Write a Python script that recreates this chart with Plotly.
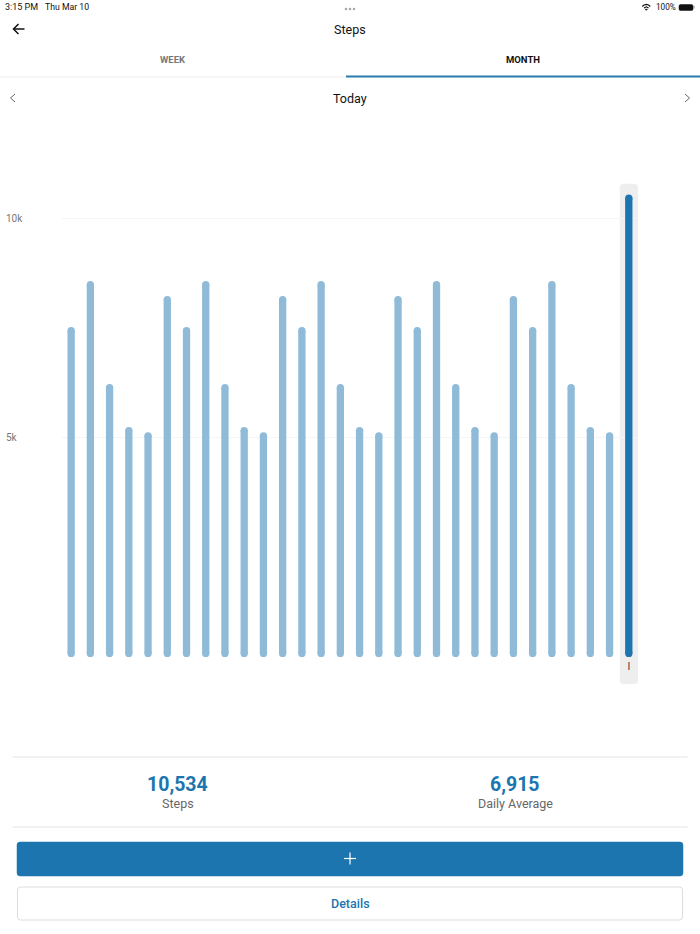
import plotly.graph_objects as go

W = 700
H = 934

days = list(range(30))
steps = [7510, 8560, 6210, 5230, 5110, 8220,
         7510, 8560, 6210, 5230, 5110, 8220,
         7510, 8560, 6210, 5230, 5110, 8220,
         7510, 8560, 6210, 5230, 5110, 8220,
         7510, 8560, 6210, 5230, 5110, 10534]
y_ticks = [5000, 10000]
y_tick_labels = ["5k", "10k"]
x_ticks = [29]
x_tick_labels = ["I"]

LIGHT = "#8fbbd9"
BLUE = "#1c75af"
GREY = "#e4e4e4"
FONT = "Roboto"

# pixel scale of the plot, 10k sits at y=218, 5k at y=437, bars 19.24px apart
PX_X = 19.23
PX_Y = 219 / 5000
ZERO_X = 628.8 - 29 * PX_X
ZERO_Y = 656
BAR_W = 7.3


def data_x(px):
    return (px - ZERO_X) / PX_X


def data_y(py):
    return (ZERO_Y - py) / PX_Y


def px(x):
    return x / W


def py(y):
    return 1 - y / H


def text(x, y, s, size, color="#222222", weight="normal", anchor="center"):
    fig.add_annotation(x=px(x), y=py(y), xref="paper", yref="paper", text=s, showarrow=False,
                       xanchor=anchor, yanchor="middle", borderpad=0,
                       font=dict(family=FONT, size=size, color=color, weight=weight))


def line(x0, y0, x1, y1, color=GREY, width=1):
    fig.add_shape(type="line", xref="paper", yref="paper", x0=px(x0), y0=py(y0), x1=px(x1), y1=py(y1),
                  line=dict(color=color, width=width))


def poly(points, color, width=1.3, fill=None, close=False):
    d = "M " + " L ".join(f"{px(a):.5f},{py(b):.5f}" for a, b in points)
    if close:
        d += " Z"
    fig.add_shape(type="path", xref="paper", yref="paper", path=d,
                  line=dict(color=color, width=width), fillcolor=fill)


def round_rect(x0, y0, x1, y1, r, fill, border=None, conv=None):
    fx, fy = conv if conv else (px, py)
    d = (f"M {fx(x0 + r)},{fy(y0)} L {fx(x1 - r)},{fy(y0)} Q {fx(x1)},{fy(y0)} {fx(x1)},{fy(y0 + r)} "
         f"L {fx(x1)},{fy(y1 - r)} Q {fx(x1)},{fy(y1)} {fx(x1 - r)},{fy(y1)} "
         f"L {fx(x0 + r)},{fy(y1)} Q {fx(x0)},{fy(y1)} {fx(x0)},{fy(y1 - r)} "
         f"L {fx(x0)},{fy(y0 + r)} Q {fx(x0)},{fy(y0)} {fx(x0 + r)},{fy(y0)} Z")
    ref = "x" if conv else "paper"
    fig.add_shape(type="path", xref=ref, yref=ref.replace("x", "y"), path=d, layer="below",
                  fillcolor=fill, line=dict(color=border if border else fill, width=0.5 if not border else 1))


colors = [BLUE if d == days[-1] else LIGHT for d in days]
# bars run between two round caps, the foot ends just under zero, the head ends at the value
foot = data_y(653.4)
cap = BAR_W / 2 / PX_Y
heads = [s - cap for s in steps]

fig = go.Figure()
fig.add_trace(go.Bar(x=days, y=[h - foot for h in heads], base=foot,
                     marker=dict(color=colors, line=dict(width=0))))
fig.add_trace(go.Scatter(x=days, y=[foot] * len(days), mode="markers",
                         marker=dict(color=colors, size=BAR_W, line=dict(width=0))))
fig.add_trace(go.Scatter(x=days, y=heads, mode="markers",
                         marker=dict(color=colors, size=BAR_W, line=dict(width=0))))

round_rect(620, 184, 638, 684, 4, "#eeeeee", conv=(data_x, data_y))

fig.update_layout(
    width=W, height=H, margin=dict(l=0, r=0, t=0, b=0), autosize=False,
    paper_bgcolor="white", plot_bgcolor="white", showlegend=False, bargap=1 - BAR_W / PX_X,
    font=dict(family=FONT),
    xaxis=dict(domain=[px(62), px(638)], range=[data_x(62), data_x(638)], showgrid=False, zeroline=False,
               showline=False, tickmode="array", tickvals=x_ticks, ticktext=x_tick_labels,
               ticks="", ticklabelposition="inside", ticklabelstandoff=9,
               tickfont=dict(size=10, color="#333333", family="Liberation Sans"), fixedrange=True),
    yaxis=dict(domain=[py(684), py(170)], range=[data_y(684), data_y(170)], anchor="free", position=px(2),
               showgrid=True, gridcolor="#f5f5f5", gridwidth=1, zeroline=False, showline=False,
               tickmode="array", tickvals=y_ticks, ticktext=y_tick_labels, ticks="",
               ticklabelposition="inside", tickfont=dict(size=10, color="#777777"), fixedrange=True),
)

# status bar
text(4, 7, "3:15 PM", 9, "#111111", anchor="left")
text(43.5, 7, "Thu Mar 10", 8.7, "#111111", anchor="left")
for dot in [346, 350, 354]:
    fig.add_shape(type="circle", xref="paper", yref="paper", x0=px(dot - 1.3), x1=px(dot + 1.3),
                  y0=py(9 + 1.3), y1=py(9 - 1.3), fillcolor="#aaaaaa", line=dict(width=0))
poly([(642.3, 6.5), (644, 5), (646.3, 4.4), (648.6, 5), (650.3, 6.5)], "#111111", 1.1)
poly([(644, 8), (646.3, 6.8), (648.6, 8)], "#111111", 1.1)
poly([(645.3, 9.3), (646.3, 10.3), (647.3, 9.3)], "#111111", 0.8, "#111111", True)
text(654.8, 7, "100%", 8.2, "#111111", anchor="left")
round_rect(679, 4.5, 693, 10.5, 1.5, "#111111")
line(694, 6, 694, 8.5, "#888888", 1)

# header
poly([(24.5, 29), (13.5, 29)], "#111111", 1.5)
poly([(18.5, 24), (13.5, 29), (18.5, 34)], "#111111", 1.5)
text(350, 29, "Steps", 12.5, "#111111")
text(173, 59.5, "WEEK", 9.5, "#777777", "bold")
text(522.5, 59.5, "MONTH", 9.5, "#111111", "bold")
line(0, 77, 346, 77, "#eeeeee", 1)
line(346, 76.5, 700, 76.5, "#2a7aaa", 2)

# date row
poly([(15, 94), (10.5, 98), (15, 102)], "#666666", 1)
poly([(685, 94), (689.5, 98), (685, 102)], "#666666", 1)
text(350, 98, "Today", 12.5, "#111111")

# totals
line(12.5, 757, 687.5, 757)
line(12.5, 827, 687.5, 827)
text(177.5, 784.5, "10,534", 19.5, BLUE, "bold")
text(177.5, 803, "Steps", 12.5, "#666666")
text(515, 784.5, "6,915", 19.5, BLUE, "bold")
text(515, 803, "Daily Average", 12.5, "#666666")

# buttons
round_rect(17, 842, 683, 876, 3, BLUE)
line(344, 858.5, 356, 858.5, "white", 1.2)
line(350, 852.5, 350, 864.5, "white", 1.2)
round_rect(17.5, 887, 682.5, 920, 3, "white", "#dddddd")
text(350, 903, "Details", 12.5, BLUE, 500)

fig.write_html("out.html", config=dict(displayModeBar=False),
               post_script="document.body.style.margin='0';document.body.style.overflow='hidden';")
